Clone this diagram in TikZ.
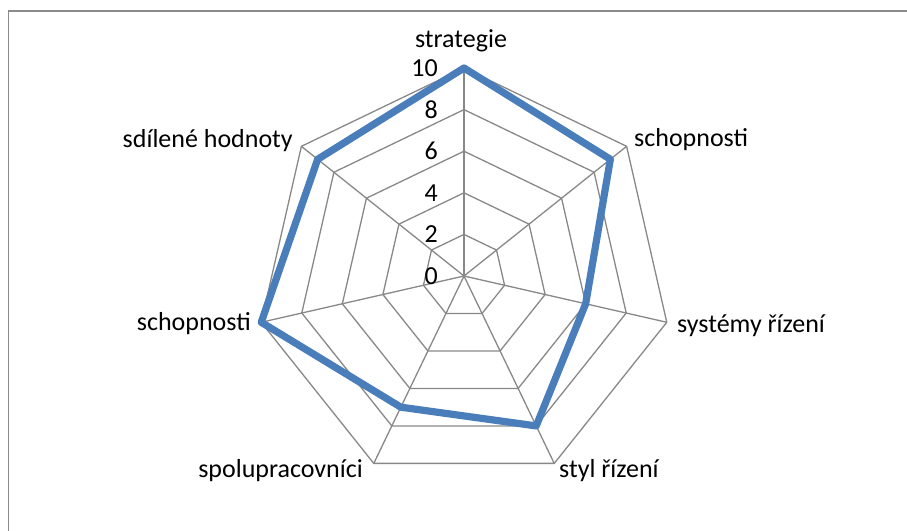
\documentclass[tikz,border=0pt]{standalone}
\usepackage{fontspec}
\setmainfont{Carlito}
\definecolor{gridgray}{HTML}{888888}
\definecolor{framegray}{HTML}{8C8C8C}
\definecolor{seriesblue}{HTML}{4A7EBB}
\begin{document}
\begin{tikzpicture}[x=1pt,y=-1pt,
  gridline/.style={draw=gridgray, line width=1.3pt, line join=miter},
  series/.style={draw=seriesblue, line width=7.2pt, line join=round},
  chartframe/.style={draw=framegray, line width=1.3pt},
  lbl/.style={font=\fontsize{26}{30}\selectfont, inner sep=0pt},
  ticklbl/.style={lbl, anchor=east}]
\clip (0,0) rectangle (907,530);
% outer chart frame
\draw[chartframe] (8.5,11) rectangle (940,560);
% centre of the radar and axis vertices (step 2 per ring, 20.8 units each)
\coordinate (c) at (464,276);
\foreach \i in {0,...,6}{
  \pgfmathsetmacro\ang{90-\i*360/7}
  \foreach \k in {2,4,6,8,10}{
    \coordinate (v\i-\k) at ({464+20.8*\k*cos(\ang)},{276-20.8*\k*sin(\ang)});
  }
}
% rings
\foreach \k in {2,4,6,8,10}{
  \draw[gridline] (v0-\k) -- (v1-\k) -- (v2-\k) -- (v3-\k) -- (v4-\k) -- (v5-\k) -- (v6-\k) -- cycle;
}
% spokes
\foreach \i in {0,...,6}{
  \draw[gridline] (c) -- (v\i-10);
}
% scale labels
\foreach \k in {0,2,4,6,8,10}{
  \node[ticklbl] (t\k) at (438,{276-20.8*\k}) {\k};
}
% data series: 10, 9, 6, 8, 7, 10, 9
\foreach \i/\val in {0/10,1/9,2/6,3/8,4/7,5/10,6/9}{
  \pgfmathsetmacro\ang{90-\i*360/7}
  \coordinate (d\i) at ({464+20.8*\val*cos(\ang)},{276-20.8*\val*sin(\ang)});
}
\draw[series] (d0) -- (d1) -- (d2) -- (d3) -- (d4) -- (d5) -- (d6) -- cycle;
% category labels
\node[lbl, anchor=base] (a0) at (461,47) {strategie};
\node[lbl, anchor=base west] (a1) at (634,146) {schopnosti};
\node[lbl, anchor=base west] (a2) at (677,332) {systémy řízení};
\node[lbl, anchor=base west] (a3) at (559,477) {styl řízení};
\node[lbl, anchor=base east] (a4) at (363,477) {spolupracovníci};
\node[lbl, anchor=base east] (a5) at (251,330) {schopnosti};
\node[lbl, anchor=base east] (a6) at (293,147) {sdílené hodnoty};
\end{tikzpicture}
\end{document}
